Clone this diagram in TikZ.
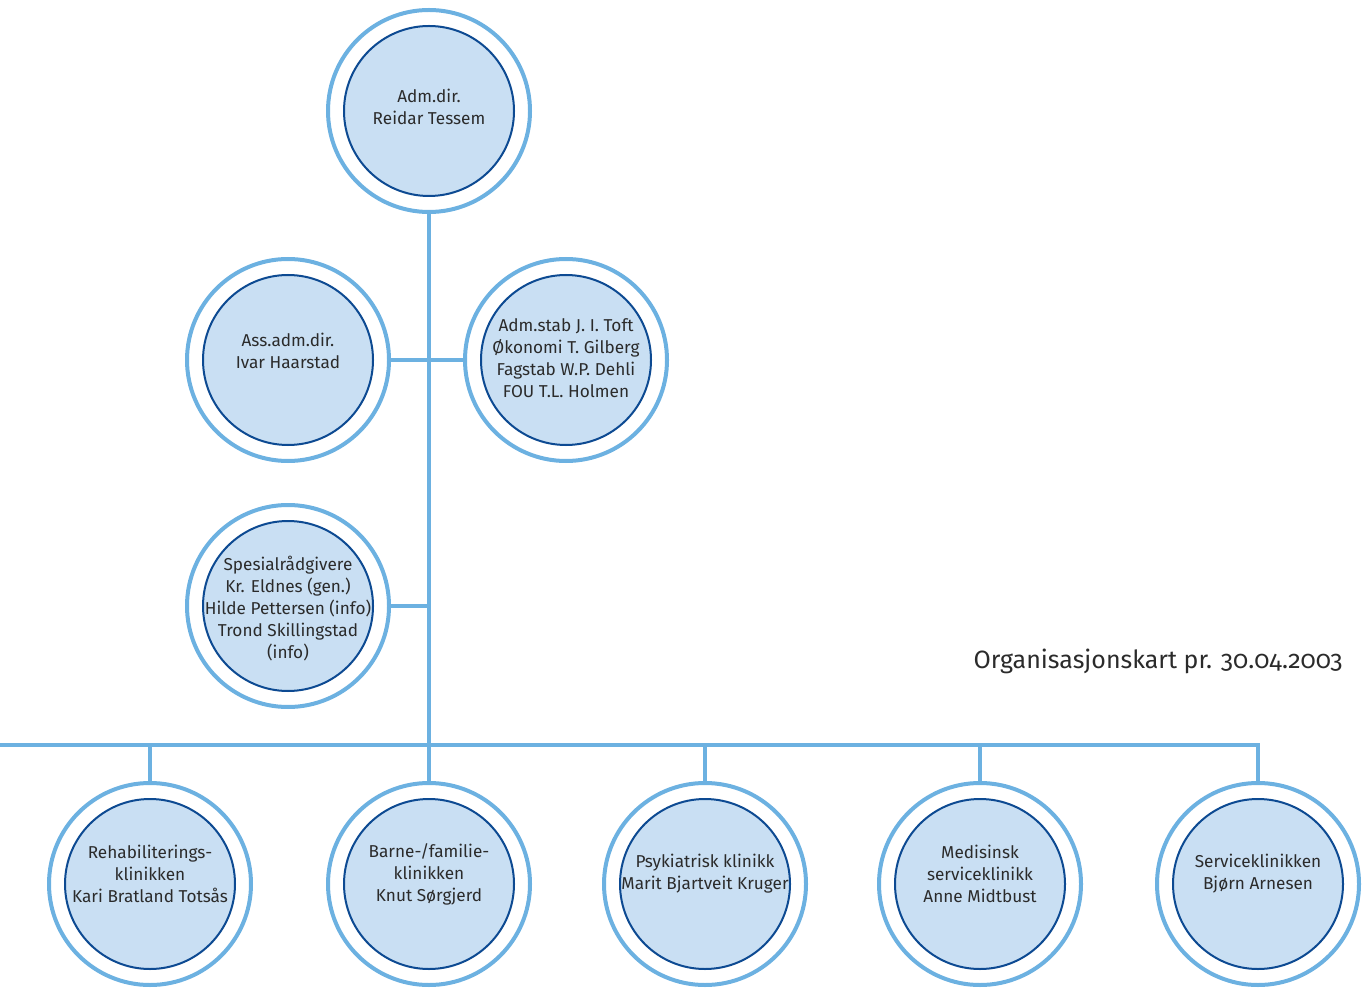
\documentclass[tikz,border=0pt]{standalone}
\usepackage{fontspec}
\setmainfont{Fira Sans}[Numbers=OldStyle]
\usepackage{xcolor}
\usetikzlibrary{positioning,calc}
\definecolor{ring}{HTML}{6CB1E1}
\definecolor{core}{HTML}{C9DFF3}
\definecolor{rim}{HTML}{0D4A92}
\definecolor{ink}{HTML}{2B2B2B}
\tikzset{
  ringnode/.style={circle,draw=ring,line width=2pt,fill=white,minimum size=101pt,inner sep=0pt},
  corenode/.style={circle,draw=rim,line width=1pt,fill=core,minimum size=85pt,inner sep=0pt},
  unittext/.style={align=center,text=ink,inner sep=0pt,font=\fontsize{8.6}{11}\selectfont},
  link/.style={draw=ring,line width=2pt},
  caption/.style={text=ink,font=\fontsize{12.5}{15}\selectfont,inner sep=0pt}
}
\newcommand{\unitnode}[4][4.5pt]{%
  \node[ringnode] (#2) at (#3) {};
  \node[corenode] (#2-c) at (#3) {};
  \node[unittext,yshift=#1] (#2-t) at (#3) {#4};}

\begin{document}
\begin{tikzpicture}[x=0.5pt,y=-0.5pt]
  \useasboundingbox (0,0) rectangle (1363,988);
  % top and staff
  \unitnode[2pt]{dir}{429,111}{Adm.dir.\\Reidar Tessem}
  \unitnode{ass}{288,360}{Ass.adm.dir.\\Ivar Haarstad}
  \unitnode[1pt]{stab}{566,360}{Adm.stab J. I. Toft\\Økonomi T. Gilberg\\Fagstab W.P. Dehli\\FOU T.L. Holmen}
  \unitnode[-1.5pt]{spes}{288,606}{Spesialrådgivere\\Kr. Eldnes (gen.)\\Hilde Pettersen (info)\\Trond Skillingstad\\(info)}
  % clinics
  \unitnode[5pt]{rehab}{150,884}{Rehabiliterings-\\klinikken\\Kari Bratland Totsås}
  \unitnode[5pt]{barn}{429,884}{Barne-/familie-\\klinikken\\Knut Sørgjerd}
  \unitnode[5pt]{psyk}{705,884}{Psykiatrisk klinikk\\Marit Bjartveit Kruger}
  \unitnode[5pt]{med}{980,884}{Medisinsk\\serviceklinikk\\Anne Midtbust}
  \unitnode[5pt]{serv}{1258,884}{Serviceklinikken\\Bjørn Arnesen}

  \coordinate (busL) at (0,745);
  \draw[link] (dir.south) -- (dir.south |- busL);
  \draw[link] (ass.east) -- (stab.west);
  \draw[link] (spes.east) -- (spes.east -| dir.south);
  \draw[link] (busL) -- (busL -| serv.north) -- (serv.north);
  \foreach \c in {rehab,barn,psyk,med}
    \draw[link] (\c.north) -- (\c.north |- busL);

  \node[caption,anchor=east] (title) at (1343,661) {Organisasjonskart pr. 30.04.2003};
\end{tikzpicture}
\end{document}
